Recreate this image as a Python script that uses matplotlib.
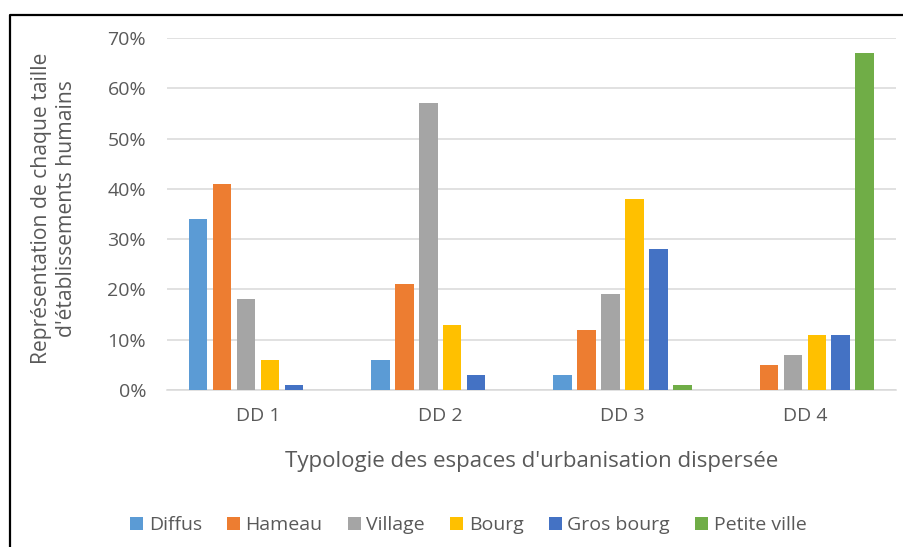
import numpy as np
import matplotlib
matplotlib.use("Agg")
import matplotlib.pyplot as plt
from matplotlib.lines import Line2D

plt.rcParams['font.family'] = ['Open Sans', 'DejaVu Sans']

categories = ["DD 1", "DD 2", "DD 3", "DD 4"]
series_names = ["Diffus", "Hameau", "Village", "Bourg", "Gros bourg", "Petite ville"]
diffus = [34, 6, 3, 0]
hameau = [41, 21, 12, 5]
village = [18, 57, 19, 7]
bourg = [6, 13, 38, 11]
gros_bourg = [1, 3, 28, 11]
petite_ville = [0, 0, 1, 67]
yticks = [0, 10, 20, 30, 40, 50, 60, 70]

colors = ["#5B9BD5", "#ED7D31", "#A5A5A5", "#FFC000", "#4472C4", "#70AD47"]
series = [diffus, hameau, village, bourg, gros_bourg, petite_ville]
grey_txt = "#595959"

fig = plt.figure(figsize=(9.04, 5.47), dpi=100)
ax = fig.add_axes([0.1847, 0.287, 0.8063, 0.6435])

x = np.arange(len(categories))
step = 0.1315
for i, (vals, name, col) in enumerate(zip(series, series_names, colors)):
    ax.bar(x + (i - 2.5) * step, np.array(vals) / 100.0, width=0.101,
           color=col, label=name, zorder=3)

ax.set_xlim(-0.5, len(categories) - 0.5)
ax.set_ylim(0, 0.70)
ax.set_yticks([v / 100.0 for v in yticks])
ax.set_yticklabels([f"{v}%" for v in yticks])
ax.set_xticks(x)
ax.set_xticklabels(categories)
ax.yaxis.grid(True, color="#D9D9D9", linewidth=1.1, zorder=0)
for s in ["top", "right", "left"]:
    ax.spines[s].set_visible(False)
ax.spines["bottom"].set_color("#D9D9D9")
ax.spines["bottom"].set_linewidth(1.1)
ax.tick_params(axis="both", length=0, labelsize=14, colors=grey_txt)
ax.tick_params(axis="y", pad=15)
ax.tick_params(axis="x", pad=12)

# y label placed by hand (two centred lines)
fig.text(54 / 904, 1 - 208.5 / 547,
         "Représentation de chaque taille\nd'établissements humains",
         rotation=90, ha="center", va="center", multialignment="center",
         fontsize=15.2, color=grey_txt, linespacing=1.29)
ax.set_xlabel("Typologie des espaces d'urbanisation dispersée",
              fontsize=16, color=grey_txt, labelpad=19)

leg = fig.legend(loc="center", bbox_to_anchor=(0.518, 0.040), ncol=6, frameon=False,
                 fontsize=14, handlelength=0.67, handleheight=0.67, handletextpad=0.28,
                 columnspacing=1.3, labelcolor=grey_txt)

# outer frame (only left and top edges visible)
fx = 9.5 / 904
fy = 1 - 14.5 / 547
fig.add_artist(Line2D([fx, fx, 1.0], [0.0, fy, fy], transform=fig.transFigure,
                      color="black", linewidth=1.6))

fig.savefig("out.png", dpi=100)
